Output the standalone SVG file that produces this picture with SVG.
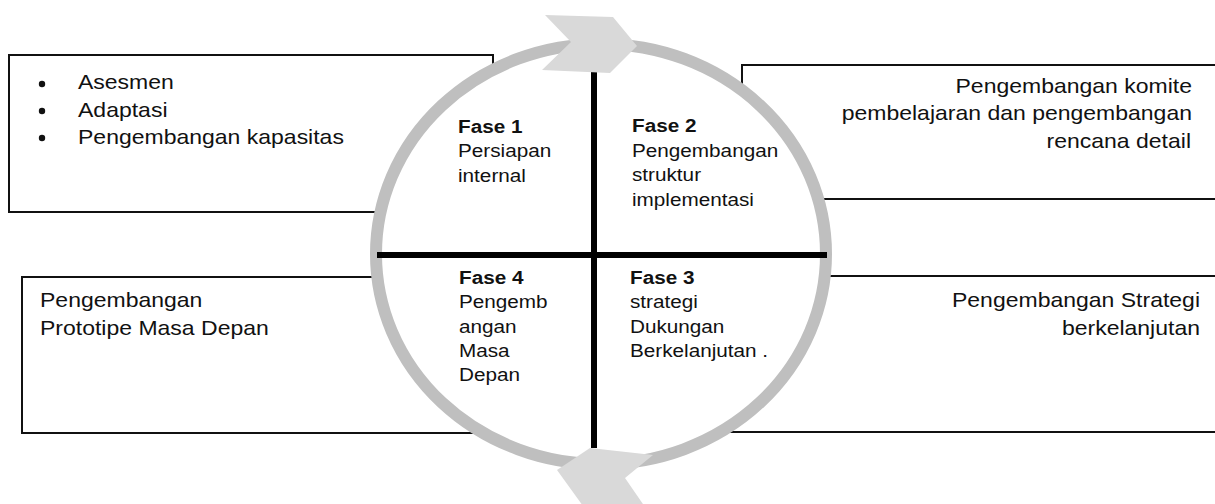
<svg xmlns="http://www.w3.org/2000/svg" width="1215" height="504" viewBox="0 0 1215 504">
<style>
.box{fill:#fff;stroke:#111;stroke-width:2}
.t{font-family:"Liberation Sans",Arial,sans-serif;font-size:20px;fill:#111}
.p{font-family:"Liberation Sans",Arial,sans-serif;font-size:18.5px;fill:#111}
.b{font-weight:bold}
.ring{fill:#fff;stroke:#bfbfbf;stroke-width:12}
.chev{fill:#d9d9d9}
.bar{stroke:#000;stroke-width:6;fill:none}
</style>
<rect width="1215" height="504" fill="#fff"/>
<g id="box-top-left">
<rect class="box" x="9" y="55" width="484" height="157"/>
<circle cx="42" cy="84" r="3.2" fill="#111"/>
<circle cx="42" cy="111" r="3.2" fill="#111"/>
<circle cx="42" cy="138" r="3.2" fill="#111"/>
<text class="t" transform="translate(78,89) scale(1.15,1)">Asesmen</text>
<text class="t" transform="translate(78,116.5) scale(1.15,1)">Adaptasi</text>
<text class="t" transform="translate(78,143.5) scale(1.15,1)">Pengembangan kapasitas</text>
</g>
<g id="box-top-right">
<rect class="box" x="742" y="65" width="490" height="134"/>
<text class="t" text-anchor="end" transform="translate(1192,92.5) scale(1.15,1)">Pengembangan komite</text>
<text class="t" text-anchor="end" transform="translate(1192,120) scale(1.15,1)">pembelajaran dan pengembangan</text>
<text class="t" text-anchor="end" transform="translate(1191,147.5) scale(1.15,1)">rencana detail</text>
</g>
<g id="box-bottom-left">
<rect class="box" x="22" y="277" width="470" height="156"/>
<text class="t" transform="translate(40,307) scale(1.15,1)">Pengembangan</text>
<text class="t" transform="translate(40,335) scale(1.15,1)">Prototipe Masa Depan</text>
</g>
<g id="box-bottom-right">
<rect class="box" x="720" y="276" width="520" height="156"/>
<text class="t" text-anchor="end" transform="translate(1200,306.5) scale(1.15,1)">Pengembangan Strategi</text>
<text class="t" text-anchor="end" transform="translate(1200,335) scale(1.15,1)">berkelanjutan</text>
</g>
<g id="cycle">
<ellipse class="ring" cx="601" cy="254" rx="225" ry="210"/>
</g>
<g id="connectors">
<line class="bar" x1="377" y1="255" x2="827" y2="255"/>
<line class="bar" x1="594" y1="72" x2="594" y2="448"/>
<polygon class="chev" points="545,15 613,17 637,46 610,73 542,70 571,42"/>
<polygon class="chev" points="590,448 653,455 625,478 645,507 583,506 557,470"/>
</g>
<g id="phase-1">
<text class="p b" transform="translate(458,133) scale(1.12,1)">Fase 1</text>
<text class="p" transform="translate(458,157) scale(1.12,1)">Persiapan</text>
<text class="p" transform="translate(458,181.5) scale(1.12,1)">internal</text>
</g>
<g id="phase-2">
<text class="p b" transform="translate(632,132) scale(1.12,1)">Fase 2</text>
<text class="p" transform="translate(632,156.5) scale(1.12,1)">Pengembangan</text>
<text class="p" transform="translate(632,181) scale(1.12,1)">struktur</text>
<text class="p" transform="translate(632,205.5) scale(1.12,1)">implementasi</text>
</g>
<g id="phase-4">
<text class="p b" transform="translate(459,283.5) scale(1.12,1)">Fase 4</text>
<text class="p" transform="translate(459,308) scale(1.12,1)">Pengemb</text>
<text class="p" transform="translate(459,332.5) scale(1.12,1)">angan</text>
<text class="p" transform="translate(459,357) scale(1.12,1)">Masa</text>
<text class="p" transform="translate(459,381) scale(1.12,1)">Depan</text>
</g>
<g id="phase-3">
<text class="p b" transform="translate(630,283.5) scale(1.12,1)">Fase 3</text>
<text class="p" transform="translate(630,308) scale(1.12,1)">strategi</text>
<text class="p" transform="translate(630,332.5) scale(1.12,1)">Dukungan</text>
<text class="p" transform="translate(630,357) scale(1.12,1)">Berkelanjutan .</text>
</g>
</svg>
